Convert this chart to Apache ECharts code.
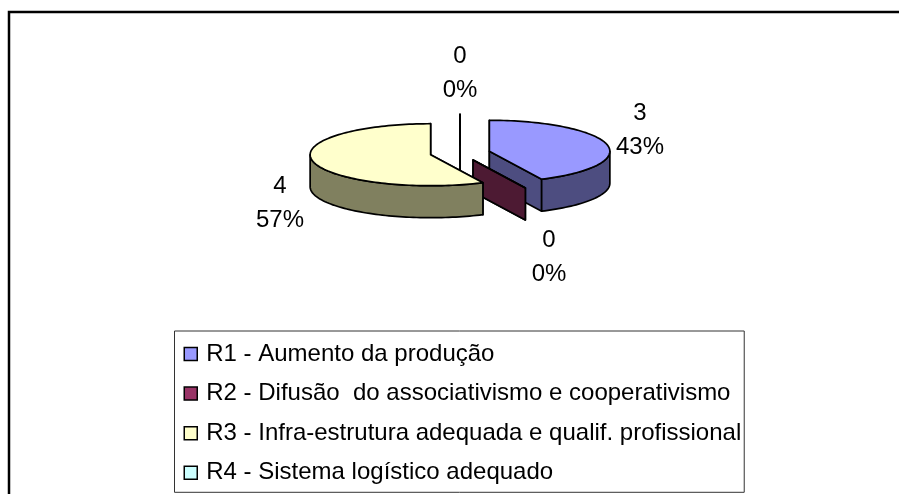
<!DOCTYPE html>
<html><head><meta charset="utf-8">
<style>html,body{margin:0;padding:0;background:#fff}#c{width:899px;height:494px}</style>
<script src="https://cdn.jsdelivr.net/npm/echarts@6/dist/echarts.min.js"></script>
</head><body><div id="c"></div>
<script>
const categories = ['R1 - Aumento da produção','R2 - Difusão  do associativismo e cooperativismo','R3 - Infra-estrutura adequada e qualif. profissional','R4 - Sistema logístico adequado'];
const values = [3,0,4,0];
const topColors = ['#9999ff','#993366','#ffffcc','#ccffff'];
const sideColors = ['#4d4d80','#4d1a33','#80805f','#668080'];
const drawOrder = [2,3,4,1];
const labelAnchors = [[640,130],[549,257],[280,203],[460,73]];
const PIE = {cx:460,cy:153,rx:120.5,ry:31,depth:32,explode:0.25};

const total = values.reduce((a,b)=>a+b,0);
function sliceAngles(i){
  let s=0; for(let k=0;k<i;k++) s+=values[k];
  return [s/total*2*Math.PI,(s+values[i])/total*2*Math.PI];
}
function makeRender(i){
  return function(params,api){
    const v=api.value(0);
    const [a0,a1]=sliceAngles(i);
    const mid=(a0+a1)/2;
    const cx=PIE.cx+PIE.explode*PIE.rx*Math.sin(mid);
    const cy=PIE.cy-PIE.explode*PIE.ry*Math.cos(mid);
    const p=(a,d)=>[cx+PIE.rx*Math.sin(a),cy-PIE.ry*Math.cos(a)+(d||0)];
    const arc=(s,e,d)=>{const n=Math.max(1,Math.ceil((e-s)/0.03));const o=[];for(let k=0;k<=n;k++)o.push(p(s+(e-s)*k/n,d));return o;};
    const line={stroke:'#000',lineWidth:1.7,lineJoin:'round'};
    const poly=(pts,fill)=>({type:'polygon',shape:{points:pts},style:Object.assign({fill},line)});
    const children=[];
    const wall=a=>poly([[cx,cy],p(a),p(a,PIE.depth),[cx,cy+PIE.depth]],sideColors[i]);
    children.push(wall(a0));
    children.push(wall(a1));
    const s=Math.max(a0,Math.PI/2),e=Math.min(a1,Math.PI*1.5);
    if(e>s){children.push(poly(arc(s,e,0).concat(arc(s,e,PIE.depth).reverse()),sideColors[i]));}
    children.push(poly([[cx,cy]].concat(arc(a0,a1,0)),topColors[i]));
    children.push({type:'text',style:{
      text:v+'\n'+Math.round(v/total*100)+'%',
      x:labelAnchors[i][0],y:labelAnchors[i][1],align:'center',verticalAlign:'middle',
      fontFamily:'Liberation Sans',fontSize:24,lineHeight:34,fill:'#000'}});
    return {type:'group',children};
  };
}
const chart=echarts.init(document.getElementById('c'),null,{renderer:'canvas'});
chart.setOption({
  animation:false,
  backgroundColor:'#fff',
  graphic:[{type:'polyline',silent:true,shape:{points:[[9,494],[9,12],[899,12]]},style:{stroke:'#000',lineWidth:2.5,fill:null}}],
  legend:{
    data:categories,orient:'vertical',left:174.5,top:331,
    padding:[11,3,7.5,9],itemGap:15.6,itemWidth:13,itemHeight:13,icon:'rect',
    selectedMode:false,
    backgroundColor:'#fff',borderColor:'#333',borderWidth:1,
    itemStyle:{borderColor:'#000',borderWidth:1.5},
    textStyle:{fontFamily:'Liberation Sans',fontSize:24,color:'#000',padding:[0,0,6,4]}
  },
  series:categories.map((name,i)=>({
    type:'custom',name,coordinateSystem:'none',silent:true,z:drawOrder[i],
    itemStyle:{color:topColors[i]},
    data:[[values[i]]],
    renderItem:makeRender(i)
  }))
});
</script></body></html>
